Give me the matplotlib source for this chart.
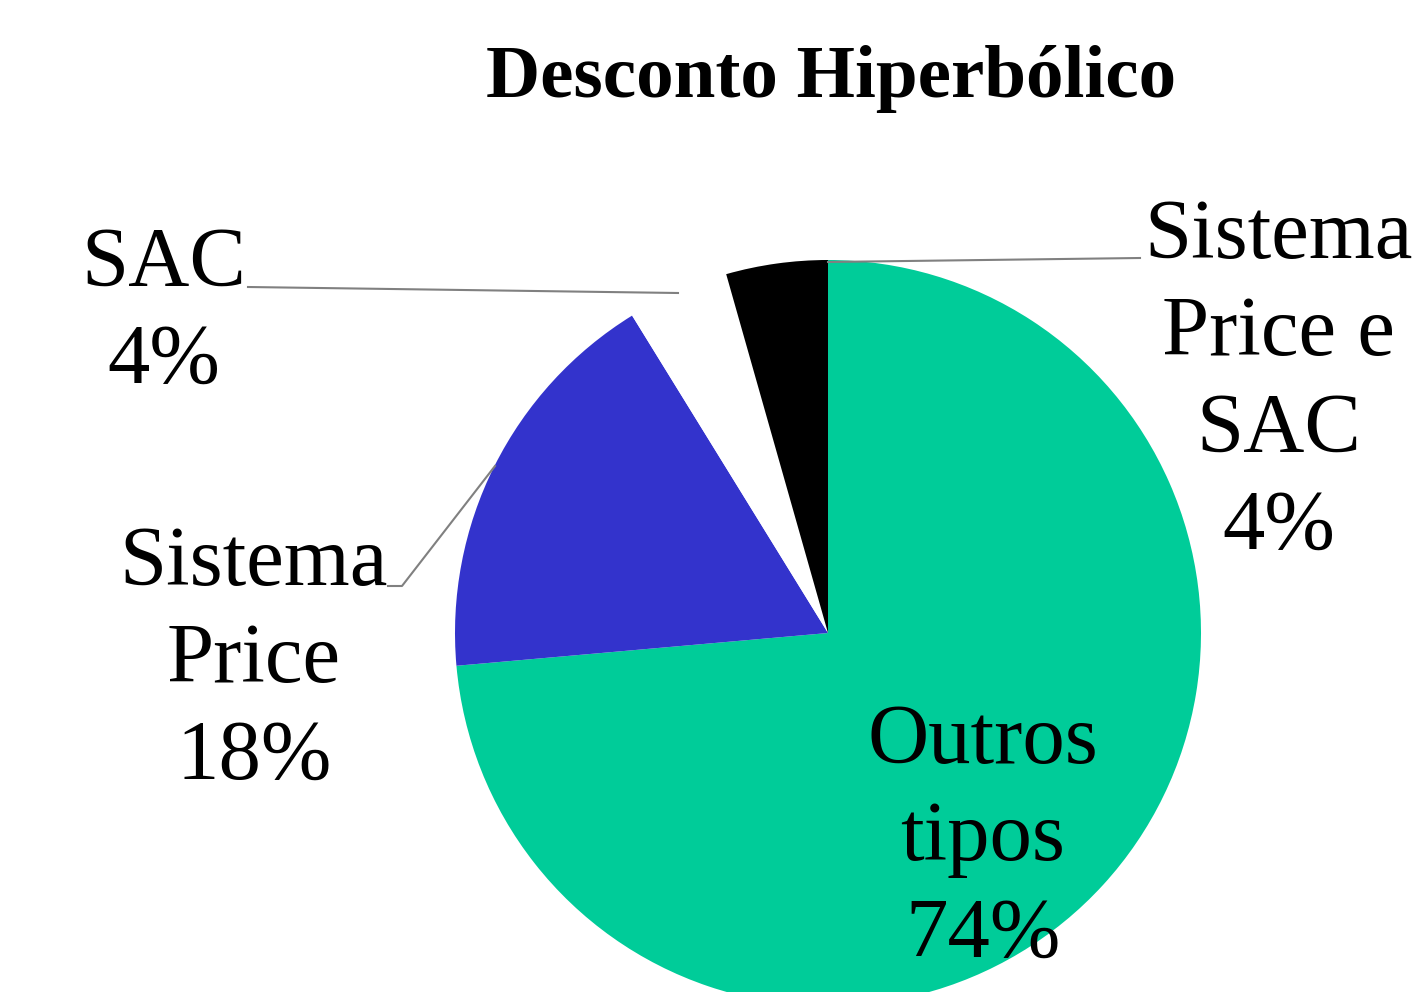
import matplotlib
matplotlib.use("Agg")
from matplotlib import pyplot as plt

labels = ["Outros\ntipos", "Sistema\nPrice", "SAC", "Sistema\nPrice e\nSAC"]
values = [73.6, 17.6, 4.4, 4.4]   # shares, shown rounded
colors = ["#00CC99", "#3333CC", "#FFFFFF", "#000000"]
title = "Desconto Hiperbólico"

W, H = 1421, 992
fy = lambda py: H - py  # pixel row -> data y

plt.rcParams['font.family'] = ['Liberation Serif', 'DejaVu Serif']
fig = plt.figure(figsize=(W / 100, H / 100), dpi=100)
ax = fig.add_axes([0, 0, 1, 1])
ax.pie(values, colors=colors, startangle=90, counterclock=False,
       center=(828, fy(633)), radius=373, frame=True,
       wedgeprops=dict(linewidth=0))
ax.set_xlim(0, W)
ax.set_ylim(0, H)
ax.set_aspect('equal')
ax.axis('off')

def lab(i):
    return f"{labels[i]}\n{values[i]:.0f}%"

# va='baseline' -> last line sits on the given row
fs, ls = 61, 1.34
ax.text(164, fy(383), lab(2), ha='center', va='baseline', fontsize=fs, linespacing=ls)
ax.text(1279, fy(549), lab(3), ha='center', va='baseline', fontsize=fs, linespacing=ls)
ax.text(254, fy(779), lab(1), ha='center', va='baseline', fontsize=fs, linespacing=ls)
ax.text(983, fy(957), lab(0), ha='center', va='baseline', fontsize=fs, linespacing=ls)

lc = '#808080'
ax.plot([248, 678], [fy(287), fy(293)], color=lc, lw=1.5)
ax.plot([828, 1140], [fy(262), fy(258)], color=lc, lw=1.5)
ax.plot([495, 402, 388], [fy(466), fy(586), fy(586)], color=lc, lw=1.5)

ax.text(831, fy(97), title, ha='center', va='baseline', fontsize=54, fontweight='bold')

fig.savefig("out.png", dpi=100)
